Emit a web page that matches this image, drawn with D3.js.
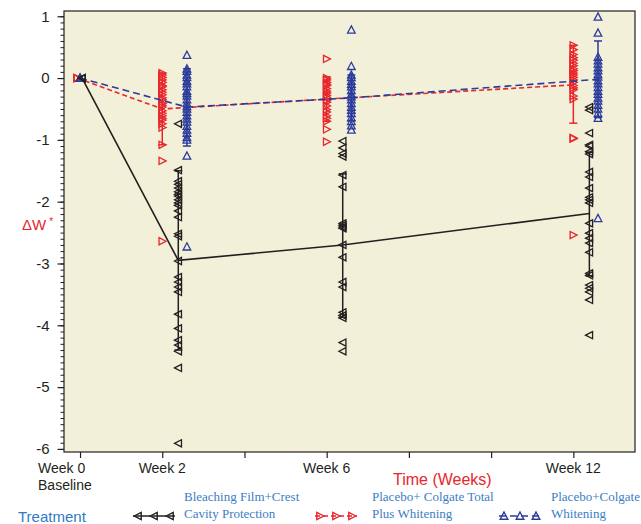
<!DOCTYPE html>
<html>
<head>
<meta charset="utf-8">
<script src="https://cdn.jsdelivr.net/npm/d3@7"></script>
<style>
  body { margin: 0; background: #fff; }
  svg { display: block; font-family: "Liberation Sans", Arial, sans-serif; }
</style>
</head>
<body>
<div id="chart"></div>
<script>
// weeks of measurement and axis ticks
const weeks = [0, 2, 6, 12];
const weekTicks = [0, 2, 4, 6, 8, 10, 12];
const weekLabels = [["Week 0", "Baseline"], ["Week 2"], ["Week 6"], ["Week 12"]];
const yTicks = [-6, -5, -4, -3, -2, -1, 0, 1];

// Bleaching Film + Crest Cavity Protection
const filmMean = [0, -2.95, -2.70, -2.19];
const filmLow = [0, -4.40, -3.87, -3.20];
const filmHigh = [0, -1.50, -1.55, -1.20];
const filmW0 = [0, 0, 0];
const filmW2 = [-0.74, -1.49, -1.67, -1.72, -1.78, -1.84, -1.88, -1.91, -1.97, -2.02, -2.06, -2.15, -2.25, -2.52, -2.56, -2.96, -3.22, -3.30, -3.38, -3.46, -3.82, -4.05, -4.24, -4.32, -4.42, -4.69, -5.91];
const filmW6 = [-1.02, -1.13, -1.22, -1.27, -1.57, -1.76, -2.35, -2.38, -2.41, -2.43, -2.70, -2.90, -3.30, -3.38, -3.79, -3.84, -3.88, -4.28, -4.42];
const filmW12 = [-0.47, -0.52, -0.89, -1.08, -1.10, -1.19, -1.23, -1.52, -1.60, -1.78, -1.93, -1.97, -2.02, -2.35, -2.51, -2.59, -2.67, -2.82, -3.16, -3.19, -3.35, -3.40, -3.46, -3.59, -4.16];

// Placebo + Colgate Total Plus Whitening
const totalMean = [0, -0.50, -0.34, -0.11];
const totalLow = [0, -1.08, -0.70, -0.73];
const totalHigh = [0, 0.08, 0.02, 0.53];
const totalW0 = [0, 0, 0];
const totalW2 = [0.08, 0.05, 0.01, -0.03, -0.07, -0.12, -0.14, -0.19, -0.23, -0.27, -0.32, -0.35, -0.41, -0.44, -0.47, -0.53, -0.57, -0.61, -0.65, -0.68, -0.74, -0.80, -1.08, -1.34, -2.64];
const totalW6 = [0.31, 0.0, -0.03, -0.07, -0.10, -0.12, -0.17, -0.21, -0.24, -0.28, -0.31, -0.36, -0.39, -0.45, -0.51, -0.55, -0.61, -0.65, -0.70, -0.83, -1.03];
const totalW12 = [0.53, 0.46, 0.38, 0.33, 0.29, 0.24, 0.20, 0.15, 0.12, 0.08, 0.05, 0.01, -0.03, -0.07, -0.12, -0.16, -0.19, -0.29, -0.34, -0.97, -0.98, -2.54];

// Placebo + Colgate Optic Whitening
const opticMean = [0, -0.47, -0.32, -0.02];
const opticLow = [0, -1.10, -0.69, -0.64];
const opticHigh = [0, 0.15, 0.05, 0.60];
const opticW0 = [0, 0, 0];
const opticW2 = [0.37, 0.15, 0.11, 0.05, 0.01, -0.05, -0.09, -0.14, -0.21, -0.25, -0.29, -0.35, -0.41, -0.46, -0.50, -0.55, -0.61, -0.66, -0.71, -0.78, -0.84, -0.89, -0.96, -1.00, -1.26, -2.73];
const opticW6 = [0.78, 0.19, 0.05, 0.01, -0.05, -0.10, -0.14, -0.20, -0.26, -0.30, -0.35, -0.41, -0.47, -0.52, -0.57, -0.64, -0.70, -0.77, -0.84];
const opticW12 = [0.99, 0.73, 0.34, 0.28, 0.23, 0.17, 0.12, 0.06, 0.02, -0.04, -0.09, -0.15, -0.21, -0.26, -0.32, -0.37, -0.44, -0.50, -0.57, -0.65, -2.27];

const groups = [
    { key: "total", label: ["Placebo+ Colgate Total", "Plus Whitening"], color: "#e8262b", shape: "right",
      dash: "5,3", shift: 0, base: -0.07, mean: totalMean, low: totalLow, high: totalHigh,
      points: [totalW0, totalW2, totalW6, totalW12] },
    { key: "optic", label: ["Placebo+Colgate", "Whitening"], color: "#2b3b9c", shape: "up",
      dash: "7,4", shift: 0.6, base: 0, mean: opticMean, low: opticLow, high: opticHigh,
      points: [opticW0, opticW2, opticW6, opticW12] },
    { key: "film", label: ["Bleaching Film+Crest", "Cavity Protection"], color: "#231f20", shape: "left",
      dash: null, shift: 0.39, base: 0.05, mean: filmMean, low: filmLow, high: filmHigh,
      points: [filmW0, filmW2, filmW6, filmW12] }
];
const legendOrder = ["film", "total", "optic"];

const width = 641, height = 524;
const marginLeft = 64, marginRight = 6, marginTop = 11, marginBottom = 72;

const x = d3.scaleLinear().domain([-0.39, 13.5]).range([marginLeft, width - marginRight]);
const y = d3.scaleLinear().domain([-6.05, 1.085]).range([height - marginBottom, marginTop]);

const wx = (g, i) => x(weeks[i] + (i === 0 ? g.base : g.shift));

const tri = {
    left: "M-3.8,0L3.2,-3.6L3.2,3.6Z",
    right: "M3.8,0L-3.2,-3.6L-3.2,3.6Z",
    up: "M0,-4L3.8,3.2L-3.8,3.2Z"
};

const svg = d3.select("#chart").append("svg")
    .attr("width", width)
    .attr("height", height)
    .attr("viewBox", [0, 0, width, height]);

svg.append("rect")
    .attr("x", marginLeft)
    .attr("y", marginTop)
    .attr("width", width - marginRight - marginLeft)
    .attr("height", height - marginBottom - marginTop)
    .attr("fill", "#f2f0d8")
    .attr("stroke", "#231f20")
    .attr("stroke-width", 1.2);

// y axis: majors every 1, minors every 0.1
const yAxis = svg.append("g").attr("transform", `translate(${marginLeft},0)`);
yAxis.call(d3.axisLeft(y).tickValues(d3.range(-60, 11).map(d => d / 10))
        .tickSize(3.5).tickFormat(""))
    .call(g => g.select(".domain").remove())
    .call(g => g.selectAll(".tick line").attr("stroke", "#231f20"));
yAxis.append("g")
    .call(d3.axisLeft(y).tickValues(yTicks).tickSize(6.5).tickPadding(8).tickFormat(d3.format("d")))
    .call(g => g.select(".domain").remove())
    .call(g => g.selectAll(".tick line").attr("stroke", "#231f20").attr("stroke-width", 1.2))
    .call(g => g.selectAll(".tick text")
        .attr("font-size", 15)
        .attr("fill", "#231f20")
        .attr("font-family", "Liberation Sans, Arial, sans-serif")
        .text(d => d < 0 ? "-" + Math.abs(d) : d));

// x axis
const xAxis = svg.append("g").attr("transform", `translate(0,${height - marginBottom})`);
xAxis.call(d3.axisBottom(x).tickValues(weekTicks).tickSize(6).tickFormat(""))
    .call(g => g.select(".domain").remove())
    .call(g => g.selectAll(".tick line").attr("stroke", "#231f20").attr("stroke-width", 1.2));

weeks.forEach((w, i) => {
    const t = svg.append("text")
        .attr("x", i === 0 ? x(w) - 42 : x(w))
        .attr("y", 473)
        .attr("text-anchor", i === 0 ? "start" : "middle")
        .attr("font-size", 14)
        .attr("fill", "#231f20");
    weekLabels[i].forEach((s, j) => {
        t.append("tspan")
            .attr("x", i === 0 ? x(w) - 42 : x(w))
            .attr("dy", j === 0 ? 0 : 17)
            .text(s);
    });
});

svg.append("text")
    .attr("x", 393)
    .attr("y", 485)
    .attr("font-size", 16)
    .attr("fill", "#e8262b")
    .text("Time (Weeks)");

const yLab = svg.append("text")
    .attr("x", 22)
    .attr("y", 230)
    .attr("font-size", 15)
    .attr("fill", "#e8262b")
    .text("ΔW");
yLab.append("tspan")
    .attr("dx", 3)
    .attr("dy", -5)
    .attr("font-size", 10)
    .text("*");

// series
const line = d3.line();

const serie = svg.append("g")
    .selectAll("g")
    .data(groups)
    .join("g");

serie.each(function (g) {
    const sel = d3.select(this);

    g.points.forEach((vals, i) => {
        sel.append("g")
            .selectAll("path")
            .data(vals)
            .join("path")
            .attr("transform", v => `translate(${wx(g, i)},${y(v)})`)
            .attr("d", tri[g.shape])
            .attr("fill", "none")
            .attr("stroke", g.color)
            .attr("stroke-width", 1.3);
    });

    weeks.forEach((w, i) => {
        if (i === 0) return;
        const cx = wx(g, i);
        sel.append("line")
            .attr("x1", cx).attr("x2", cx)
            .attr("y1", y(g.low[i])).attr("y2", y(g.high[i]))
            .attr("stroke", g.color)
            .attr("stroke-width", 1.5);
        [g.low[i], g.high[i]].forEach(v => {
            sel.append("line")
                .attr("x1", cx - 4).attr("x2", cx + 4)
                .attr("y1", y(v)).attr("y2", y(v))
                .attr("stroke", g.color)
                .attr("stroke-width", 1.5);
        });
    });

    sel.append("path")
        .attr("d", line(g.mean.map((m, i) => [wx(g, i), y(m)])))
        .attr("fill", "none")
        .attr("stroke", g.color)
        .attr("stroke-width", 1.6)
        .attr("stroke-dasharray", g.dash);
});

// legend
svg.append("text")
    .attr("x", 18)
    .attr("y", 522)
    .attr("font-size", 15)
    .attr("fill", "#2f7bc2")
    .text("Treatment");

const legendX = [133, 315, 499];
const legendTextX = [184, 372, 551];
legendOrder.forEach((k, n) => {
    const g = groups.find(d => d.key === k);
    const lx = legendX[n];
    const item = svg.append("g").attr("transform", `translate(${lx},516)`);
    item.append("line")
        .attr("x1", 0).attr("x2", 42)
        .attr("stroke", g.color)
        .attr("stroke-width", 1.6)
        .attr("stroke-dasharray", g.dash);
    [5, 21, 37].forEach(px => {
        item.append("path")
            .attr("transform", `translate(${px},0)`)
            .attr("d", tri[g.shape])
            .attr("fill", "none")
            .attr("stroke", g.color)
            .attr("stroke-width", 1.4);
    });
    const t = svg.append("text")
        .attr("x", legendTextX[n])
        .attr("y", 501)
        .attr("font-family", "Liberation Serif, Times New Roman, serif")
        .attr("font-size", 13)
        .attr("fill", "#3a7ec4");
    g.label.forEach((s, j) => {
        t.append("tspan").attr("x", legendTextX[n]).attr("dy", j === 0 ? 0 : 17).text(s);
    });
});
</script>
</body>
</html>
